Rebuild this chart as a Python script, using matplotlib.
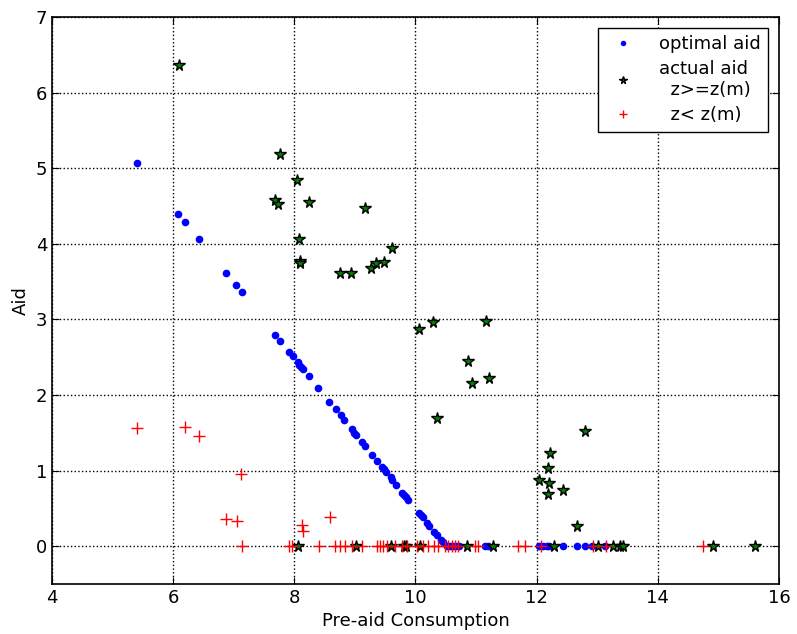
import matplotlib
matplotlib.use("Agg")
import matplotlib.pyplot as plt

# optimal aid (blue dots)
opt_x = [5.41, 6.08, 6.20, 6.42, 6.88, 7.04, 7.13,
         7.68, 7.76, 7.91, 7.98, 8.06, 8.08, 8.11, 8.15, 8.24, 8.39, 8.57, 8.69,
         8.77, 8.82, 8.95, 8.98, 9.02, 9.12, 9.17, 9.28, 9.36, 9.45, 9.48, 9.51,
         9.59, 9.61, 9.68, 9.78, 9.81, 9.84, 9.87, 10.06, 10.09, 10.12, 10.19,
         10.22, 10.30, 10.35, 10.42, 10.45,
         10.52, 10.57, 10.62, 10.67, 10.72, 11.15, 11.20, 12.04, 12.10, 12.17,
         12.20, 12.43, 12.66, 12.80, 12.91, 13.13]
opt_y = [5.07, 4.40, 4.29, 4.07, 3.61, 3.45, 3.36,
         2.79, 2.71, 2.57, 2.52, 2.43, 2.40, 2.37, 2.35, 2.25, 2.09, 1.91, 1.82,
         1.74, 1.67, 1.55, 1.50, 1.47, 1.38, 1.33, 1.21, 1.13, 1.05, 1.02, 0.98,
         0.92, 0.88, 0.81, 0.71, 0.68, 0.65, 0.61, 0.44, 0.41, 0.38, 0.31,
         0.27, 0.19, 0.15, 0.08, 0.05,
         0, 0, 0, 0, 0, 0, 0, 0, 0, 0,
         0, 0, 0, 0, 0, 0]

# actual aid, z >= z(m) (green stars)
hi_x = [6.09, 7.77, 7.68, 7.73, 8.04, 8.24, 8.08, 8.10, 8.10, 8.76, 8.93,
        9.17, 9.27, 9.35, 9.48, 9.62, 10.06, 10.29, 11.16, 10.86, 10.94, 11.21,
        10.36, 12.80, 12.22, 12.18, 12.04, 12.20, 12.18, 12.43, 12.66,
        8.06, 9.02, 9.59, 9.81, 9.84, 10.07, 10.85, 11.28, 12.28, 13.01, 13.26,
        13.37, 13.42, 14.91, 15.60]
hi_y = [6.36, 5.19, 4.58, 4.53, 4.84, 4.55, 4.07, 3.77, 3.74, 3.62, 3.62,
        4.47, 3.68, 3.74, 3.76, 3.94, 2.87, 2.96, 2.98, 2.45, 2.16, 2.22,
        1.69, 1.53, 1.23, 1.04, 0.88, 0.84, 0.69, 0.74, 0.27,
        0, 0, 0, 0, 0, 0, 0, 0, 0, 0, 0,
        0, 0, 0, 0]

# actual aid, z < z(m) (red crosses)
lo_x = [5.41, 6.19, 6.42, 7.12, 6.88, 7.05, 8.12, 8.15, 8.59,
        7.13, 7.92, 7.96, 8.41, 8.67, 8.75, 8.83, 8.95, 9.12, 9.36, 9.41, 9.46,
        9.53, 9.66, 9.78, 9.86, 10.02, 10.12, 10.20, 10.30, 10.37, 10.49, 10.53,
        10.60, 10.65, 10.70, 10.98, 11.03, 11.69, 11.81, 12.07, 12.93, 13.14,
        14.74]
lo_y = [1.57, 1.58, 1.46, 0.95, 0.36, 0.33, 0.28, 0.20, 0.39,
        0, 0, 0, 0, 0, 0, 0, 0, 0, 0, 0, 0,
        0, 0, 0, 0, 0, 0, 0, 0, 0, 0, 0,
        0, 0, 0, 0, 0, 0, 0, 0, 0, 0,
        0]

labels = ["optimal aid", "actual aid\n  z>=z(m)", "  z< z(m)"]
x_ticks = [4, 6, 8, 10, 12, 14, 16]
y_ticks = [0, 1, 2, 3, 4, 5, 6, 7]

plt.rcParams['font.family'] = ['DejaVu Sans']
fig = plt.figure(figsize=(7.97, 6.34), dpi=100)
ax = fig.add_axes([52/797, 1-584/634, (779-52)/797, (584-17)/634])

ax.plot(opt_x, opt_y, 'o', color='blue', markeredgecolor='blue',
        markersize=4.5, label=labels[0], zorder=3)
ax.plot(hi_x, hi_y, '*', color='green', markeredgecolor='black',
        markeredgewidth=1.0, markersize=8.5, label=labels[1], zorder=4)
ax.plot(lo_x, lo_y, '+', color='red', markersize=9, markeredgewidth=1.0,
        label=labels[2], zorder=5)

ax.set_xlim(4, 16)
ax.set_ylim(-0.5, 7)
ax.set_xticks(x_ticks)
ax.set_yticks(y_ticks)
ax.tick_params(direction='in', top=True, right=True, length=5, labelsize=13)
ax.grid(True, linestyle=':', color='black', linewidth=1.0)
for s in ax.spines.values():
    s.set_linewidth(1.2)

ax.set_xlabel("Pre-aid Consumption", fontsize=13)
ax.set_ylabel("Aid", fontsize=13)

leg = ax.legend(loc='upper right', numpoints=1, fontsize=13, fancybox=False,
                framealpha=1, edgecolor='black', borderaxespad=0.6,
                handletextpad=1.0, labelspacing=0.4, markerscale=0.65)
leg.get_frame().set_linewidth(1.0)

fig.savefig("out.png", dpi=100, facecolor='white')
